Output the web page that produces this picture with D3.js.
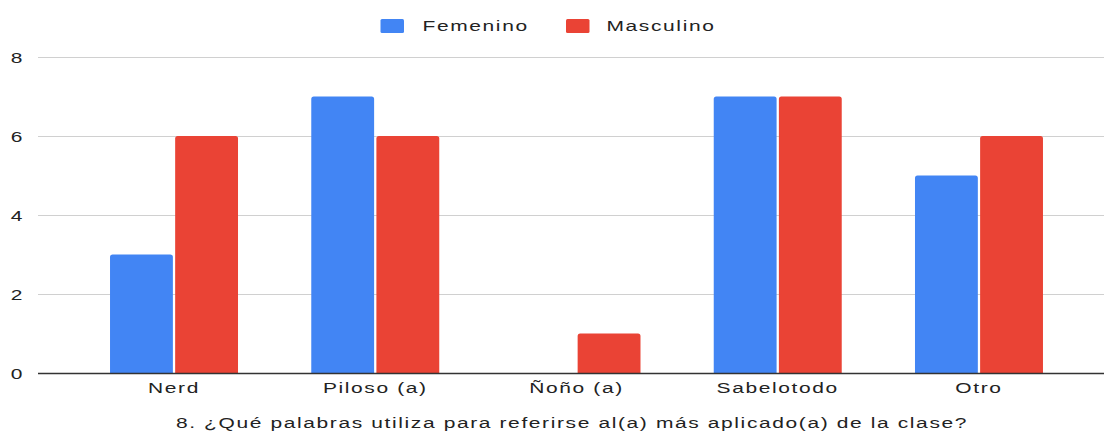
<!DOCTYPE html>
<html>
<head>
<meta charset="utf-8">
<script src="https://cdn.jsdelivr.net/npm/d3@7"></script>
<style>
  body { margin: 0; background: #fff; }
  text { font-family: "Liberation Sans", Arial, sans-serif; fill: #222; }
</style>
</head>
<body>
<div id="chart"></div>
<script>
// Chart data
const categories = ["Nerd", "Piloso (a)", "Ñoño (a)", "Sabelotodo", "Otro"];
const seriesNames = ["Femenino", "Masculino"];
const femenino = [3, 7, 0, 7, 5];
const masculino = [6, 6, 1, 7, 6];
const yTicks = [0, 2, 4, 6, 8];
const colours = ["#4285F4", "#EA4335"];
const title = "8. ¿Qué palabras utiliza para referirse al(a) más aplicado(a) de la clase?";

const width = 1104;
const height = 432;
const stretch = 1.4; // text in the source image is horizontally stretched
const spacing = 1.15;

const svg = d3.select("#chart").append("svg")
  .attr("width", width)
  .attr("height", height);

// Scales
const x = d3.scaleBand()
  .domain(categories)
  .range([73.4, 1079.6])
  .paddingInner(0.364)
  .paddingOuter(0.182);

const xInner = d3.scaleBand()
  .domain(seriesNames)
  .range([0, x.bandwidth()])
  .paddingInner(0.035);

const y = d3.scaleLinear().domain([0, 8]).range([373, 57]);

// Stretched text helper
const addText = (g, str, px, py, anchor, size) =>
  g.append("text")
    .attr("transform", `translate(${px},${py}) scale(${stretch},1)`)
    .attr("text-anchor", anchor)
    .style("font-size", size + "px")
    .style("letter-spacing", spacing + "px")
    .text(str);

// Grid lines + y labels
const grid = svg.append("g");
grid.selectAll("line")
  .data(yTicks.filter((d) => d > 0))
  .enter()
  .append("line")
  .attr("x1", 38)
  .attr("x2", width)
  .attr("y1", (d) => y(d) + 0.5)
  .attr("y2", (d) => y(d) + 0.5)
  .attr("stroke", "#d0d0d0")
  .attr("stroke-width", 1.2);

for (const t of yTicks) {
  addText(svg, String(t), 24, y(t) + 5.5, "end", 15);
}

// Bars with slightly rounded tops
const r = 2.5;
const barPath = (x0, w, top, base) => {
  const h = base - top;
  const rr = Math.min(r, h / 2, w / 2);
  return `M${x0},${base} V${top + rr} Q${x0},${top} ${x0 + rr},${top} ` +
    `H${x0 + w - rr} Q${x0 + w},${top} ${x0 + w},${top + rr} V${base} Z`;
};

const rows = categories.map((c, i) => ({
  cat: c,
  values: [
    { s: seriesNames[0], v: femenino[i] },
    { s: seriesNames[1], v: masculino[i] },
  ],
}));

svg.append("g")
  .selectAll("g")
  .data(rows)
  .enter()
  .append("g")
  .attr("transform", (d) => `translate(${x(d.cat)},0)`)
  .selectAll("path")
  .data((d) => d.values.filter((v) => v.v > 0))
  .enter()
  .append("path")
  .attr("d", (d) => barPath(xInner(d.s), xInner.bandwidth(), y(d.v), y(0)))
  .attr("fill", (d) => colours[seriesNames.indexOf(d.s)]);

// Baseline
svg.append("line")
  .attr("x1", 38)
  .attr("x2", width)
  .attr("y1", y(0) + 0.5)
  .attr("y2", y(0) + 0.5)
  .attr("stroke", "#333")
  .attr("stroke-width", 1.3);

// X labels
for (const c of categories) {
  addText(svg, c, x(c) + x.bandwidth() / 2, 393, "middle", 15);
}

// Title
addText(svg, title, 572, 428, "middle", 15);

// Legend
const legendItems = [
  { name: seriesNames[0], sx: 380.5, tx: 422.5 },
  { name: seriesNames[1], sx: 566, tx: 606.5 },
];
legendItems.forEach((d, i) => {
  svg.append("rect")
    .attr("x", d.sx)
    .attr("y", 19)
    .attr("width", 23.5)
    .attr("height", 14)
    .attr("rx", 1.5)
    .attr("fill", colours[i]);
  addText(svg, d.name, d.tx, 31, "start", 15);
});
</script>
</body>
</html>
